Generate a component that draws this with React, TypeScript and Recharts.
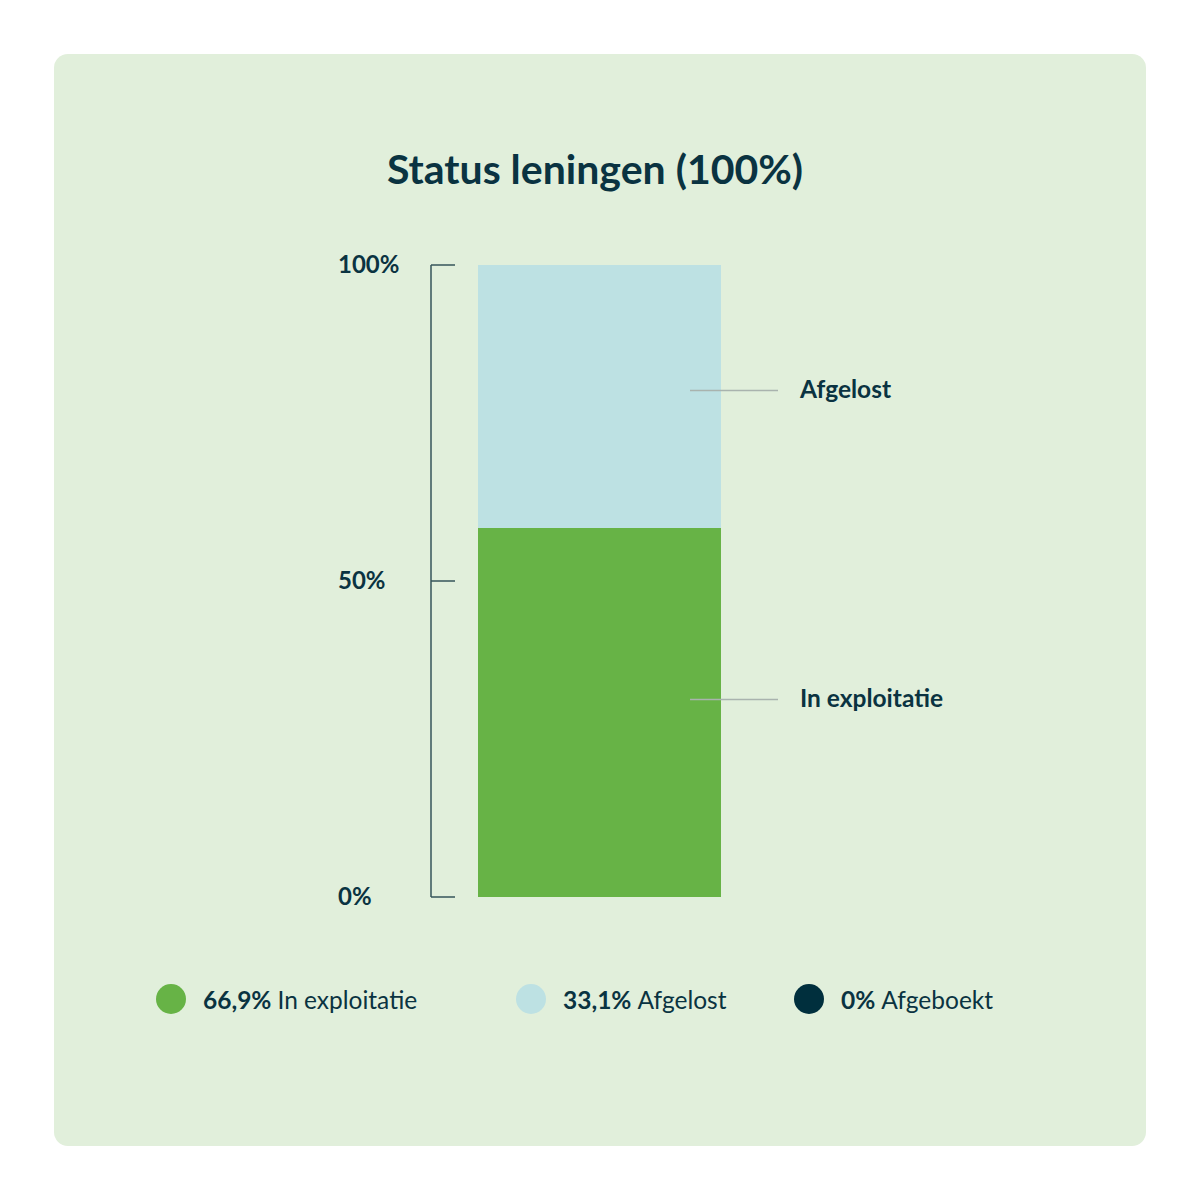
import React from "react";
import { BarChart, Bar, XAxis, YAxis, LabelList } from "recharts";

const categories = ["Status"];
const seriesNames = ["In exploitatie", "Afgelost", "Afgeboekt"];
const barValues = [58.4, 41.6, 0];
const legendPercents = ["66,9%", "33,1%", "0%"];
const yTicks = [0, 50, 100];
const yTickLabels = ["0%", "50%", "100%"];
const colors = ["#67b346", "#bde1e3", "#002f3d"];

const data = categories.map((c) => ({
  name: c,
  s0: barValues[0],
  s1: barValues[1],
  s2: barValues[2],
}));

const FONT = "Lato, 'Open Sans', sans-serif";
const DARK = "#0a3341";

const Tick = (props: any) => {
  const { x, y, payload } = props;
  const i = yTicks.indexOf(payload.value);
  const ax = x + 8;
  return (
    <g>
      <line x1={ax} y1={y} x2={ax + 24} y2={y} stroke="#34545a" strokeWidth={1.5} />
      <text x={ax - 93} y={y + 8} fontFamily={FONT} fontWeight={700} fontSize={24} fill={DARK} textAnchor="start">
        {yTickLabels[i]}
      </text>
    </g>
  );
};

const makeLabel = (name: string, dy: number) => (props: any) => {
  const { x, y, width, height } = props;
  if (!height || height <= 0) return null;
  const cy = y + height / 2 + dy;
  return (
    <g>
      <line x1={x + 212} y1={cy} x2={x + 300} y2={cy} stroke="#a9b3ae" strokeWidth={1.5} />
      <text x={x + 322} y={cy + 8} fontFamily={FONT} fontWeight={700} fontSize={24.5} fill={DARK}>
        {name}
      </text>
    </g>
  );
};

export default function App() {
  const legendLeft = [156, 516, 794];
  return (
    <div style={{ position: "absolute", left: 0, top: 0, width: 1200, height: 1200, background: "#ffffff" }}>
      <div
        style={{
          position: "absolute",
          left: 54,
          top: 54,
          width: 1092,
          height: 1092,
          background: "#e1efdb",
          borderRadius: 14,
        }}
      />
      <div
        style={{
          position: "absolute",
          left: 0,
          top: 144,
          width: 1190,
          textAlign: "center",
          fontFamily: FONT,
          fontWeight: 700,
          fontSize: 41,
          color: DARK,
          lineHeight: "50px",
        }}
      >
        Status leningen (100%)
      </div>
      <div style={{ position: "absolute", left: 0, top: 0 }}>
        <BarChart
          width={1200}
          height={1200}
          data={data}
          margin={{ top: 265, right: 432, bottom: 303, left: 331 }}
        >
          <XAxis dataKey="name" hide />
          <YAxis
            type="number"
            domain={[0, 100]}
            ticks={yTicks}
            width={100}
            axisLine={{ stroke: "#34545a", strokeWidth: 1.5 }}
            tickLine={false}
            tick={<Tick />}
          />
          <Bar dataKey="s0" stackId="a" fill={colors[0]} barSize={243} isAnimationActive={false}>
            <LabelList dataKey="s0" content={makeLabel(seriesNames[0], -13)} />
          </Bar>
          <Bar dataKey="s1" stackId="a" fill={colors[1]} barSize={243} isAnimationActive={false}>
            <LabelList dataKey="s1" content={makeLabel(seriesNames[1], -6)} />
          </Bar>
          <Bar dataKey="s2" stackId="a" fill={colors[2]} barSize={243} isAnimationActive={false} />
        </BarChart>
      </div>
      {seriesNames.map((n, i) => (
        <div
          key={n}
          style={{
            position: "absolute",
            left: legendLeft[i],
            top: 984,
            height: 30,
            display: "flex",
            alignItems: "center",
            fontFamily: FONT,
            fontSize: 24.5,
            color: DARK,
            whiteSpace: "nowrap",
          }}
        >
          <span
            style={{
              display: "inline-block",
              width: 30,
              height: 30,
              borderRadius: 15,
              background: colors[i],
              marginRight: 17,
            }}
          />
          <span style={{ fontWeight: 700 }}>{legendPercents[i]}</span>
          <span style={{ marginLeft: 6 }}>{n}</span>
        </div>
      ))}
    </div>
  );
}
